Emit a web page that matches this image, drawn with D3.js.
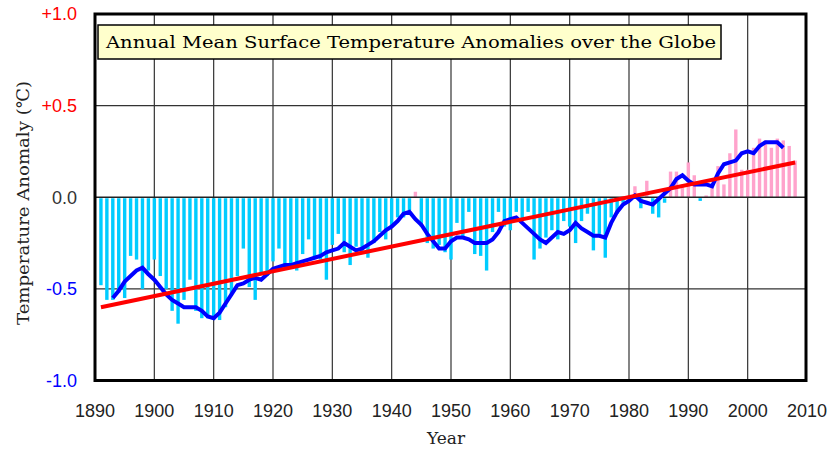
<!DOCTYPE html>
<html>
<head>
<meta charset="utf-8">
<script src="https://cdn.jsdelivr.net/npm/d3@7"></script>
<style>
  html, body { margin: 0; padding: 0; background: #fff; }
  svg { display: block; }
</style>
</head>
<body>
<svg id="chart"></svg>
<script>
// Annual anomalies (deg C), 1891-2008
const firstYear = 1891;
const anomalies = [
  -0.48, -0.56, -0.56, -0.52, -0.55, -0.32, -0.34, -0.50, -0.40, -0.34,
  -0.43, -0.50, -0.62, -0.69, -0.56, -0.45, -0.62, -0.66, -0.66, -0.67,
  -0.67, -0.60, -0.53, -0.43, -0.28, -0.49, -0.56, -0.42, -0.43, -0.35,
  -0.28, -0.37, -0.39, -0.40, -0.31, -0.23, -0.33, -0.34, -0.45, -0.26,
  -0.20, -0.30, -0.37, -0.27, -0.30, -0.33, -0.25, -0.19, -0.23, -0.16,
  -0.11, -0.11, -0.07, 0.03, -0.16, -0.25, -0.28, -0.26, -0.30, -0.34,
  -0.14, -0.22, -0.08, -0.31, -0.32, -0.40, -0.19, -0.08, -0.16, -0.18,
  -0.08, -0.13, -0.08, -0.34, -0.28, -0.22, -0.18, -0.23, -0.13, -0.16,
  -0.25, -0.13, -0.09, -0.29, -0.20, -0.33, -0.11, -0.09, -0.03, -0.02,
  0.06, -0.06, 0.09, -0.09, -0.11, -0.03, 0.14, 0.14, 0.07, 0.19,
  0.12, -0.02, 0.01, 0.07, 0.17, 0.07, 0.24, 0.37, 0.15, 0.15,
  0.27, 0.32, 0.31, 0.27, 0.32, 0.31, 0.28, 0.20
];

// 5-year running mean as drawn (1893-2006)
const meanFirstYear = 1893;
const runningMean = [
  -0.55, -0.51, -0.46, -0.43, -0.40, -0.385, -0.42, -0.45,
  -0.49, -0.53, -0.56, -0.58, -0.60, -0.60, -0.60, -0.62, -0.65, -0.66,
  -0.63, -0.58, -0.53, -0.48, -0.47, -0.45, -0.44, -0.45, -0.42, -0.39,
  -0.38, -0.37, -0.37, -0.36, -0.35, -0.34, -0.33, -0.32, -0.30, -0.29,
  -0.28, -0.25, -0.27, -0.29, -0.28, -0.26, -0.24, -0.21, -0.18, -0.16,
  -0.13, -0.09, -0.08, -0.12, -0.15, -0.20, -0.24, -0.28, -0.28, -0.24,
  -0.22, -0.22, -0.23, -0.25, -0.25, -0.25, -0.23, -0.19, -0.13, -0.12,
  -0.11, -0.14, -0.17, -0.20, -0.23, -0.25, -0.22, -0.19, -0.20, -0.18,
  -0.14, -0.17, -0.19, -0.21, -0.21, -0.22, -0.14, -0.08, -0.04, -0.02,
  0.01, -0.02, -0.03, -0.04, -0.01, 0.02, 0.05, 0.10, 0.12, 0.09,
  0.07, 0.07, 0.07, 0.06, 0.13, 0.18, 0.19, 0.20, 0.24, 0.25,
  0.24, 0.28, 0.30, 0.30, 0.30, 0.27
];

// Long-term linear trend, end points
const trendYears = [1891, 2008];
const trendValues = [-0.60, 0.19];

const xTicks = [1890, 1900, 1910, 1920, 1930, 1940, 1950, 1960, 1970, 1980, 1990, 2000, 2010];
const yTicks = [1.0, 0.5, 0.0, -0.5, -1.0];
const yTickLabels = ["+1.0", "+0.5", "0.0", "-0.5", "-1.0"];
const yTickColors = ["#ff0000", "#ff0000", "#333333", "#0000ff", "#0000ff"];

const titleText = "Annual Mean Surface Temperature Anomalies over the Globe";
const yLabel = "Temperature Anomaly (\u2103)";
const xLabel = "Year";

const width = 828, height = 450;
const plot = { left: 95, right: 807, top: 14, bottom: 380.5 };

const svg = d3.select('#chart').attr('width', width).attr('height', height);

const x = d3.scaleLinear().domain([1890, 2010]).range([plot.left, plot.right]);
const y = d3.scaleLinear().domain([-1, 1]).range([plot.bottom, plot.top]);

const bars = anomalies.map((v, i) => ({ year: firstYear + i, value: v }));
const mean = runningMean.map((v, i) => ({ year: meanFirstYear + i, value: v }));
const trend = trendYears.map((yr, i) => ({ year: yr, value: trendValues[i] }));

// Grid
const grid = svg.append('g');
grid.selectAll('line.v')
  .data(xTicks.slice(1, -1))
  .join('line')
  .attr('x1', d => x(d)).attr('x2', d => x(d))
  .attr('y1', plot.top).attr('y2', plot.bottom)
  .attr('stroke', '#333').attr('stroke-width', 1.2);
grid.selectAll('line.h')
  .data([0.5, -0.5])
  .join('line')
  .attr('x1', plot.left).attr('x2', plot.right)
  .attr('y1', d => y(d)).attr('y2', d => y(d))
  .attr('stroke', '#333').attr('stroke-width', 1.2);

// Bars
const barW = 3.4;
svg.append('g')
  .selectAll('rect')
  .data(bars)
  .join('rect')
  .attr('x', d => x(d.year) - barW / 2)
  .attr('width', barW)
  .attr('y', d => d.value >= 0 ? y(d.value) : y(0) + 1)
  .attr('height', d => Math.max(0, Math.abs(y(d.value) - y(0)) - (d.value < 0 ? 1 : 0)))
  .attr('fill', d => d.value >= 0 ? '#ffa3cc' : '#00ccff');

// Zero line
svg.append('line')
  .attr('x1', plot.left).attr('x2', plot.right)
  .attr('y1', y(0)).attr('y2', y(0))
  .attr('stroke', '#222').attr('stroke-width', 1.3);

// Running mean
const line = d3.line().x(d => x(d.year)).y(d => y(d.value));
svg.append('path')
  .datum(mean)
  .attr('d', line)
  .attr('fill', 'none')
  .attr('stroke', '#0000ff')
  .attr('stroke-width', 4)
  .attr('stroke-linejoin', 'miter');

// Trend
svg.append('path')
  .datum(trend)
  .attr('d', line)
  .attr('fill', 'none')
  .attr('stroke', '#ff0000')
  .attr('stroke-width', 4);

// Frame
svg.append('rect')
  .attr('x', plot.left).attr('y', plot.top)
  .attr('width', plot.right - plot.left - 1)
  .attr('height', plot.bottom - plot.top)
  .attr('fill', 'none')
  .attr('stroke', '#000')
  .attr('stroke-width', 3);

// Y tick labels
svg.append('g')
  .selectAll('text')
  .data(yTicks)
  .join('text')
  .attr('x', 77)
  .attr('y', d => y(d))
  .attr('dy', '0.36em')
  .attr('text-anchor', 'end')
  .attr('font-family', '"Liberation Sans", Arial, sans-serif')
  .attr('font-size', 18)
  .attr('fill', (d, i) => yTickColors[i])
  .text((d, i) => yTickLabels[i]);

// X tick labels
svg.append('g')
  .selectAll('text')
  .data(xTicks)
  .join('text')
  .attr('x', d => x(d))
  .attr('y', 411)
  .attr('dy', '0.36em')
  .attr('text-anchor', 'middle')
  .attr('font-family', '"Liberation Sans", Arial, sans-serif')
  .attr('font-size', 18)
  .attr('fill', '#222')
  .text(d => d);

// Axis titles
svg.append('text')
  .attr('x', 446).attr('y', 438)
  .attr('dy', '0.36em')
  .attr('text-anchor', 'middle')
  .attr('font-family', '"DejaVu Serif", serif')
  .attr('font-size', 17)
  .attr('fill', '#222')
  .text(xLabel);

svg.append('text')
  .attr('transform', 'translate(23,203) rotate(-90)')
  .attr('dy', '0.36em')
  .attr('text-anchor', 'middle')
  .attr('font-family', '"DejaVu Serif", serif')
  .attr('font-size', 17)
  .attr('fill', '#222')
  .attr('textLength', 244)
  .attr('lengthAdjust', 'spacingAndGlyphs')
  .text(yLabel);

// Title box
svg.append('rect')
  .attr('x', 98).attr('y', 25)
  .attr('width', 623).attr('height', 34)
  .attr('fill', '#ffffcc')
  .attr('stroke', '#000')
  .attr('stroke-width', 1.5);

svg.append('text')
  .attr('x', 106).attr('y', 42)
  .attr('dy', '0.36em')
  .attr('font-family', '"DejaVu Serif", serif')
  .attr('font-size', 17)
  .attr('fill', '#000')
  .attr('textLength', 610)
  .attr('lengthAdjust', 'spacingAndGlyphs')
  .text(titleText);
</script>
</body>
</html>
